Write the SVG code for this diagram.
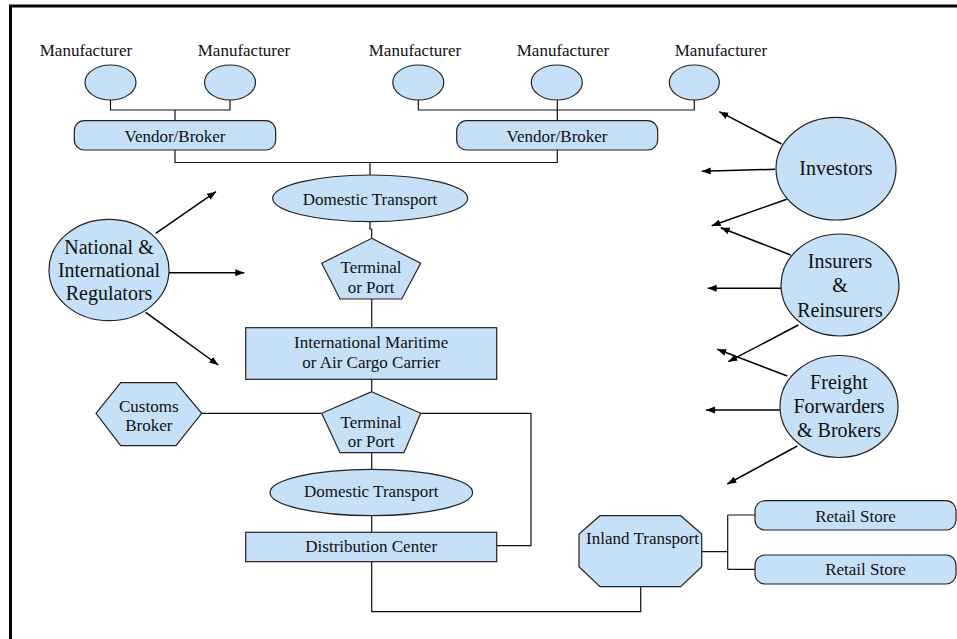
<svg xmlns="http://www.w3.org/2000/svg" width="957" height="639" viewBox="0 0 957 639">
<style>
.n{fill:#C6E0F8;stroke:#222;stroke-width:1.2}
.c{fill:none;stroke:#111;stroke-width:1.2}
.a{fill:none;stroke:#000;stroke-width:1.5;marker-end:url(#ah)}
text{font-family:"Liberation Serif","Times New Roman",serif;fill:#111;text-anchor:middle}
.s{font-size:17px}
.l{font-size:20px}
</style>
<defs>
<marker id="ah" markerUnits="userSpaceOnUse" markerWidth="10" markerHeight="8" refX="9" refY="3.5" orient="auto">
<path d="M0,0 L9,3.5 L0,7 z" fill="#000"/>
</marker>
</defs>
<rect x="10.5" y="6" width="960" height="660" fill="#fff" stroke="#000" stroke-width="3"/>

<g id="connectors">
<path class="c" d="M110.5,100 V110 H230 V100 M175,110 V120.7"/>
<path class="c" d="M418.3,100 V110 H694.3 V100 M557.3,100 V120.7"/>
<path class="c" d="M175,150 V162.5 H557.3 V150 M370,162.5 V175"/>
<path class="c" d="M370,221.7 V229 H371.7 V238.3"/>
<path class="c" d="M371.7,299 V327.7"/>
<path class="c" d="M371.7,379.3 V391.7"/>
<path class="c" d="M201.7,413.3 H321.7"/>
<path class="c" d="M420.7,413.3 H531 V545.7 H496.7"/>
<path class="c" d="M371.7,452.7 V469.3"/>
<path class="c" d="M371.7,515.7 V532.3"/>
<path class="c" d="M371.7,561.7 V611.7 H640.7 V586.7"/>
<path class="c" d="M701.7,551.7 H727.7 M727.7,515 V569.3 M727.7,515 H755 M727.7,569.3 H755"/>
<line class="a" x1="155.7" y1="233.3" x2="216" y2="191.7"/>
<line class="a" x1="169" y1="272.7" x2="244.3" y2="272.7"/>
<line class="a" x1="145.7" y1="312.3" x2="218.3" y2="365"/>
<line class="a" x1="781.7" y1="144" x2="719.3" y2="111.7"/>
<line class="a" x1="775" y1="169.3" x2="701.7" y2="171.2"/>
<line class="a" x1="786.7" y1="199.3" x2="711.7" y2="225.7"/>
<line class="a" x1="790.7" y1="255" x2="720.7" y2="227.7"/>
<line class="a" x1="781" y1="288.3" x2="707.7" y2="288.3"/>
<line class="a" x1="798.3" y1="325" x2="728.3" y2="361.7"/>
<line class="a" x1="787.3" y1="376" x2="717.3" y2="349.3"/>
<line class="a" x1="780" y1="410" x2="706" y2="410"/>
<line class="a" x1="797.3" y1="446" x2="727.3" y2="484"/>
</g>

<g id="mfr1"><text class="s" x="86" y="56">Manufacturer</text><ellipse class="n" cx="110.5" cy="82.5" rx="25.5" ry="17.5"/></g>
<g id="mfr2"><text class="s" x="244" y="56">Manufacturer</text><ellipse class="n" cx="230" cy="82.5" rx="25.5" ry="17.5"/></g>
<g id="mfr3"><text class="s" x="415" y="56">Manufacturer</text><ellipse class="n" cx="418.3" cy="82.5" rx="25.5" ry="17.5"/></g>
<g id="mfr4"><text class="s" x="563" y="56">Manufacturer</text><ellipse class="n" cx="556.8" cy="82.5" rx="25.5" ry="17.5"/></g>
<g id="mfr5"><text class="s" x="721" y="56">Manufacturer</text><ellipse class="n" cx="694.3" cy="82.5" rx="25" ry="17.5"/></g>

<g id="vendor1"><rect class="n" x="74.3" y="120.7" width="201.4" height="29.3" rx="10"/><text class="s" x="175" y="141.5">Vendor/Broker</text></g>
<g id="vendor2"><rect class="n" x="456.7" y="120.7" width="201" height="29.3" rx="10"/><text class="s" x="557" y="141.5">Vendor/Broker</text></g>

<g id="domestic1"><ellipse class="n" cx="370.2" cy="198.3" rx="97.5" ry="23.3"/><text class="s" x="370" y="205">Domestic Transport</text></g>
<g id="terminal1"><polygon class="n" points="371.7,238.3 420.7,263.3 401.7,299 340,299 321.7,263.3"/><text class="s" x="371" y="272.7">Terminal</text><text class="s" x="371" y="292.7">or Port</text></g>
<g id="carrier"><rect class="n" x="245.7" y="327.7" width="251" height="51.6"/><text class="s" x="371.2" y="348.3">International Maritime</text><text class="s" x="371.2" y="367.7">or Air Cargo Carrier</text></g>
<g id="terminal2"><polygon class="n" points="371.7,391.7 420.7,413.3 404,452.7 340,452.7 321.7,413.3"/><text class="s" x="371" y="427.7">Terminal</text><text class="s" x="371" y="446.7">or Port</text></g>
<g id="customs"><polygon class="n" points="96,413.3 120.7,382.7 176,382.7 201.7,413.3 176,445.7 120.7,445.7"/><text class="s" x="148.8" y="411.7">Customs</text><text class="s" x="148.8" y="430.7">Broker</text></g>
<g id="domestic2"><ellipse class="n" cx="371.3" cy="492.5" rx="101.3" ry="23.2"/><text class="s" x="371.3" y="497.3">Domestic Transport</text></g>
<g id="dc"><rect class="n" x="245.7" y="532.3" width="251" height="29.4"/><text class="s" x="371.2" y="551.7">Distribution Center</text></g>
<g id="inland"><polygon class="n" points="600,515.7 680.7,515.7 701.7,534 701.7,566.7 680.7,586.7 600,586.7 579,566.7 579,534"/><text class="s" x="642.5" y="544.3">Inland Transport</text></g>
<g id="retail1"><rect class="n" x="755" y="500.7" width="201" height="29.3" rx="10"/><text class="s" x="855.5" y="521.7">Retail Store</text></g>
<g id="retail2"><rect class="n" x="755" y="555" width="201" height="29" rx="10"/><text class="s" x="865.5" y="575">Retail Store</text></g>

<g id="regulators"><ellipse class="n" cx="109" cy="270" rx="60" ry="50.7"/><text class="l" x="109" y="254">National &amp;</text><text class="l" x="109" y="277.3">International</text><text class="l" x="109" y="300">Regulators</text></g>
<g id="investors"><ellipse class="n" cx="836" cy="168.7" rx="60" ry="51.3"/><text class="l" x="836" y="175">Investors</text></g>
<g id="insurers"><ellipse class="n" cx="840" cy="285" rx="59" ry="51"/><text class="l" x="840" y="268.3">Insurers</text><text class="l" x="840" y="292.3">&amp;</text><text class="l" x="840" y="316.7">Reinsurers</text></g>
<g id="freight"><ellipse class="n" cx="839" cy="406.5" rx="59" ry="51"/><text class="l" x="839" y="389.3">Freight</text><text class="l" x="839" y="413.3">Forwarders</text><text class="l" x="839" y="437.3">&amp; Brokers</text></g>
</svg>
